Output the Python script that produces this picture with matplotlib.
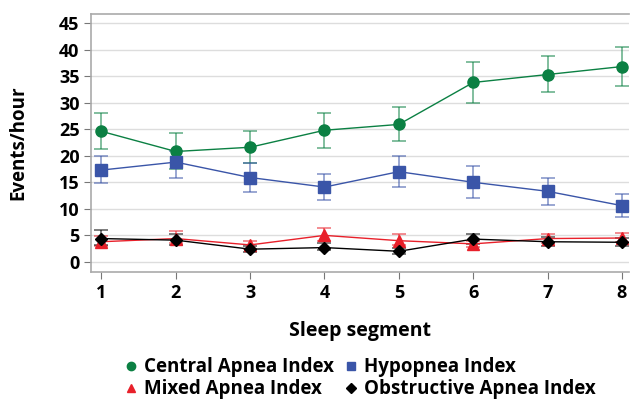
import matplotlib
matplotlib.use("Agg")
import matplotlib.pyplot as plt

plt.rcParams['font.family'] = ['Open Sans', 'DejaVu Sans']

segments = [1, 2, 3, 4, 5, 6, 7, 8]

central = [24.6, 20.8, 21.6, 24.8, 25.9, 33.8, 35.3, 36.8]
central_lo = [21.3, 17.5, 18.6, 21.5, 22.7, 29.9, 32.0, 33.2]
central_hi = [28.0, 24.2, 24.7, 28.1, 29.1, 37.6, 38.8, 40.5]

hypop = [17.3, 18.8, 15.9, 14.1, 17.0, 15.0, 13.3, 10.6]
hypop_lo = [14.8, 15.8, 13.2, 11.6, 14.2, 12.1, 10.8, 8.5]
hypop_hi = [20.0, 20.8, 18.6, 16.6, 20.0, 18.0, 15.9, 12.8]

mixed = [3.8, 4.4, 3.2, 5.0, 4.0, 3.4, 4.4, 4.5]
mixed_lo = [3.0, 3.5, 2.5, 4.0, 3.2, 2.8, 3.5, 3.8]
mixed_hi = [4.9, 5.8, 4.0, 6.4, 5.2, 4.0, 5.2, 5.5]

obstr = [4.4, 4.1, 2.4, 2.7, 2.0, 4.3, 3.8, 3.7]
obstr_lo = [3.2, 3.2, 1.8, 2.2, 1.4, 3.4, 3.0, 3.0]
obstr_hi = [6.0, 5.2, 3.0, 3.5, 2.7, 5.3, 4.7, 4.5]

series = [
    ("Central Apnea Index", central, central_lo, central_hi, "#0b8043", "o", 8),
    ("Hypopnea Index", hypop, hypop_lo, hypop_hi, "#3a55a8", "s", 8),
    ("Mixed Apnea Index", mixed, mixed_lo, mixed_hi, "#e8202a", "^", 8),
    ("Obstructive Apnea Index", obstr, obstr_lo, obstr_hi, "#000000", "D", 6.5),
]

fig = plt.figure(figsize=(6.3, 4.0), dpi=100)
ax = fig.add_axes([0.145, 0.32, 0.854, 0.645])

handles = {}
for name, v, lo, hi, col, mk, ms in series:
    err = [[a - b for a, b in zip(v, lo)], [b - a for a, b in zip(v, hi)]]
    ax.errorbar(segments, v, yerr=err, fmt="none", ecolor=col, alpha=0.6,
                capsize=5, elinewidth=1.2, capthick=1.2, zorder=2)
    ax.plot(segments, v, color=col, lw=1.0, zorder=3)
    h, = ax.plot(segments, v, ls="none", marker=mk, ms=ms, color=col,
                 zorder=4, label=name)
    handles[name] = h

ax.set_xlim(0.865, 8.1)
ax.set_ylim(-1.9, 46.7)
ax.set_yticks(range(0, 46, 5))
ax.set_xticks(segments)
ax.grid(axis="y", color="#dddddd", lw=1)
ax.set_axisbelow(True)
for s in ["left", "top", "bottom"]:
    ax.spines[s].set_color("#aaaaaa")
    ax.spines[s].set_linewidth(1.2)
ax.spines["right"].set_visible(False)
ax.tick_params(colors="#777777", labelcolor="black", labelsize=13, length=5)
for t in ax.get_xticklabels() + ax.get_yticklabels():
    t.set_fontweight("bold")
ax.set_ylabel("Events/hour", fontsize=13.5, fontweight="bold", labelpad=22)
ax.set_xlabel("Sleep segment", fontsize=14, fontweight="bold", labelpad=14)

order = ["Central Apnea Index", "Mixed Apnea Index",
         "Hypopnea Index", "Obstructive Apnea Index"]
leg = fig.legend(handles=[handles[n] for n in order], loc="lower center",
                 bbox_to_anchor=(0.572, -0.04),
                 ncol=2, frameon=False, prop={"size": 13.5, "weight": "bold"},
                 handlelength=0.6, handletextpad=0.4, columnspacing=0.6,
                 labelspacing=0.1, markerscale=0.75)

fig.savefig("out.png", dpi=100)
